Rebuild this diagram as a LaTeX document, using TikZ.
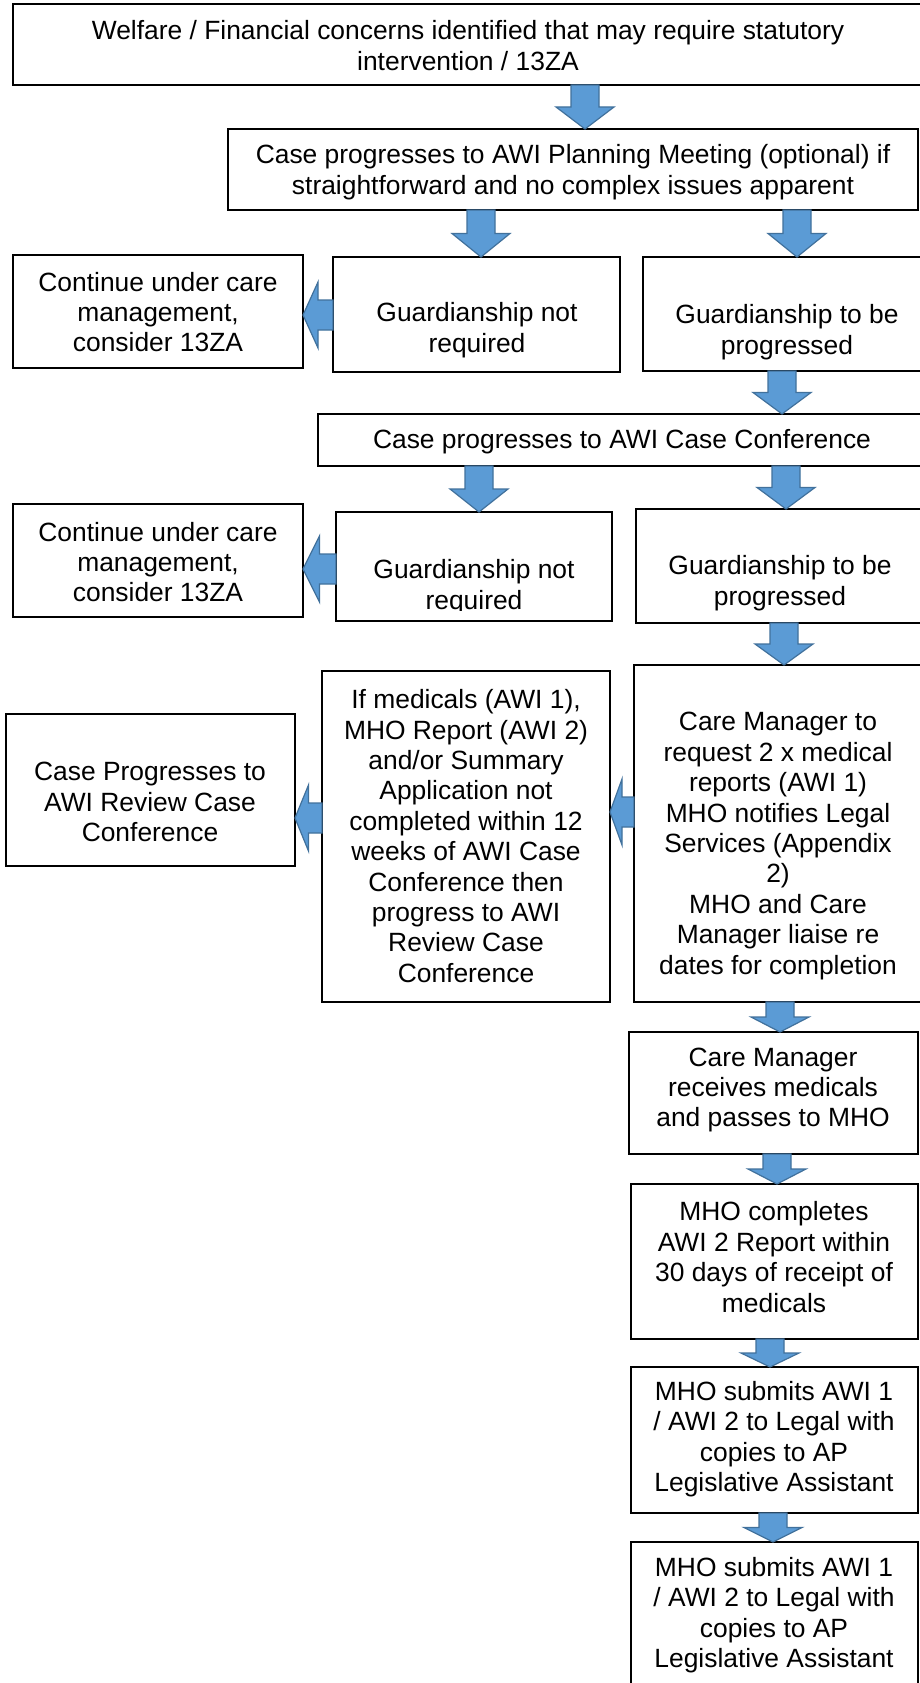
\documentclass[tikz,border=0pt]{standalone}
\usepackage{fontspec}
\setmainfont{Liberation Sans}
\usetikzlibrary{calc}
\definecolor{arrfill}{RGB}{91,155,213}
\definecolor{arrline}{RGB}{65,113,156}
\tikzset{
  box/.style={draw=black, line width=1.4pt, fill=white, rectangle, inner sep=0pt, outer sep=0pt},
  txt/.style={align=center, inner sep=0pt, font=\fontsize{26.4}{30.4}\selectfont},
  barrow/.style={fill=arrfill, draw=arrline, line width=1.2pt, line join=miter},
}
\newcommand\mkbox[5]{\node[box, anchor=north west, minimum width={#4-#2}, minimum height={#5-#3}] (#1) at (#2,-#3) {};}
% down block arrow: from node, to node, x centre
\newcommand\darrow[3]{%
  \draw[barrow] let \p1=(#1.south), \p2=(#2.north), \n1={(\y1-\y2)*0.5} in
    (#3-14,\y1) -- (#3+14,\y1) -- (#3+14,\y2+\n1) -- (#3+29,\y2+\n1) -- (#3,\y2)
    -- (#3-29,\y2+\n1) -- (#3-14,\y2+\n1) -- cycle;}
% left block arrow: from node (right), to node (left), y centre
\newcommand\larrow[3]{%
  \draw[barrow] let \p1=(#1.west), \p2=(#2.east), \n1={(\x1-\x2)*0.5} in
    (\x1,#3+15) -- (\x2+\n1,#3+15) -- (\x2+\n1,#3+33) -- (\x2,#3)
    -- (\x2+\n1,#3-33) -- (\x2+\n1,#3-15) -- (\x1,#3-15) -- cycle;}
\begin{document}
\begin{tikzpicture}[x=1pt,y=1pt]
\fill[white] (0,0) rectangle (920,-1683);
\useasboundingbox (0,0) rectangle (920,-1683);
% boxes
\mkbox{b1}{13}{4}{923}{85}
\mkbox{b2}{228}{129}{918}{210}
\mkbox{b3}{13}{255}{303}{368}
\mkbox{b4}{333}{257}{620}{372}
\mkbox{b5}{643}{257}{924}{371}
\mkbox{b6}{318}{414}{925}{466}
\mkbox{b7}{13}{504}{303}{617}
\mkbox{b8}{336}{512}{612}{621}
\mkbox{b9}{636}{509}{924}{623}
\mkbox{b10}{6}{714}{295}{866}
\mkbox{b11}{322}{671}{610}{1002}
\mkbox{b12}{634}{665}{922}{1002}
\mkbox{b13}{629}{1032}{918}{1154}
\mkbox{b14}{631}{1184}{918}{1339}
\mkbox{b15}{631}{1367}{918}{1513}
\mkbox{b16}{631}{1542}{918}{1700}
% texts
\node[txt] (t1) at (468,-45.5) {Welfare / Financial concerns identified that may require statutory\\intervention / 13ZA};
\node[txt] (t2) at (573,-172) {Case progresses to AWI Planning Meeting (optional) if\\straightforward and no complex issues apparent};
\node[txt] (t3) at (158,-312) {Continue under care\\management,\\consider 13ZA};
\node[txt] (t4) at (477,-330) {Guardianship not\\required};
\node[txt] (t5) at (787,-332) {Guardianship to be\\progressed};
\node[txt] (t6) at (622,-442) {Case progresses to AWI Case Conference};
\node[txt] (t7) at (158,-562) {Continue under care\\management,\\consider 13ZA};
\begin{scope}
  \clip (b8.north west) rectangle ($(b8.south east)+(0,11)$);
  \node[txt] (t8) at (474,-587) {Guardianship not\\required};
\end{scope}
\node[txt] (t9) at (780,-583) {Guardianship to be\\progressed};
\node[txt] (t10) at (150,-802) {Case Progresses to\\AWI Review Case\\Conference};
\node[txt] (t11) at (466,-836) {If medicals (AWI 1),\\MHO Report (AWI 2)\\and/or Summary\\Application not\\completed within 12\\weeks of AWI Case\\Conference then\\progress to AWI\\Review Case\\Conference};
\node[txt] (t12) at (778,-846) {Care Manager to\\request 2 x medical\\reports (AWI 1)\\MHO notifies Legal\\Services (Appendix\\2)\\MHO and Care\\Manager liaise re\\dates for completion};
\node[txt] (t13) at (773,-1090) {Care Manager\\receives medicals\\and passes to MHO};
\node[txt] (t14) at (774,-1257) {MHO completes\\AWI 2 Report within\\30 days of receipt of\\medicals};
\node[txt] (t15) at (774,-1439) {MHO submits AWI 1\\/ AWI 2 to Legal with\\copies to AP\\Legislative Assistant};
\node[txt] (t16) at (774,-1615) {MHO submits AWI 1\\/ AWI 2 to Legal with\\copies to AP\\Legislative Assistant};
% arrows
\darrow{b1}{b2}{585}
\darrow{b2}{b4}{481}
\darrow{b2}{b5}{797}
\darrow{b5}{b6}{782}
\darrow{b6}{b8}{479}
\darrow{b6}{b9}{786}
\darrow{b9}{b12}{784}
\darrow{b12}{b13}{780}
\darrow{b13}{b14}{777}
\darrow{b14}{b15}{770}
\darrow{b15}{b16}{773}
\larrow{b4}{b3}{-315}
\larrow{b8}{b7}{-569}
\larrow{b12}{b11}{-812}
\larrow{b11}{b10}{-818}
\end{tikzpicture}
\end{document}
